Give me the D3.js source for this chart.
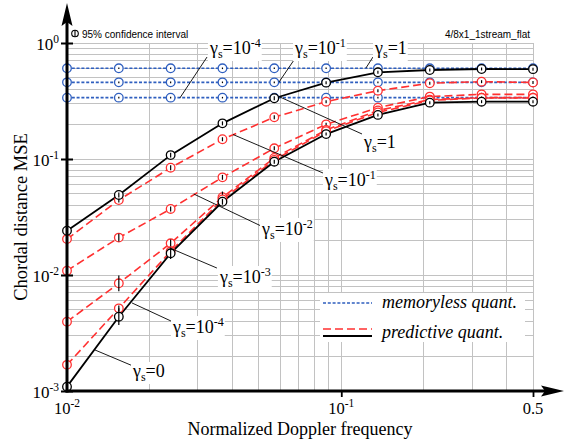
<!DOCTYPE html>
<html><head><meta charset="utf-8">
<script src="https://cdn.jsdelivr.net/npm/d3@7"></script>
<style>
  body { margin: 0; background: #fff; }
  svg { display: block; }
</style>
</head><body>
<svg id="chart" width="566" height="441"></svg>
<script>
// Normalized Doppler frequencies of the simulated points
const doppler = [0.01, 0.01545, 0.02387, 0.03688, 0.05698, 0.08804, 0.1360, 0.2102, 0.3247, 0.5];

// Memoryless quantization (flat over Doppler)
const memGamma1   = [0.605, 0.605, 0.605, 0.605, 0.605, 0.605, 0.605, 0.605, 0.605, 0.605];
const memGamma1e1 = [0.458, 0.458, 0.458, 0.458, 0.458, 0.458, 0.458, 0.458, 0.458, 0.458];
const memGamma1e4 = [0.338, 0.338, 0.338, 0.338, 0.338, 0.338, 0.338, 0.338, 0.338, 0.338];

// Predictive quantization
const predGamma1   = [0.0241, 0.049, 0.108, 0.203, 0.334, 0.455, 0.559, 0.585, 0.597, 0.595];
const predGamma1e1 = [0.0204, 0.0443, 0.0841, 0.148, 0.229, 0.312, 0.388, 0.450, 0.464, 0.457];
const predGamma1e2 = [0.0109, 0.0210, 0.0371, 0.0695, 0.1237, 0.199, 0.277, 0.345, 0.361, 0.361];
const predGamma1e3 = [0.00396, 0.00848, 0.01876, 0.0468, 0.102, 0.178, 0.262, 0.325, 0.338, 0.338];
const predGamma1e4 = [0.00168, 0.00516, 0.0160, 0.0449, 0.098, 0.174, 0.252, 0.320, 0.336, 0.336];
const predGamma0   = [0.00109, 0.00437, 0.01538, 0.0428, 0.0948, 0.164, 0.240, 0.306, 0.312, 0.312];

// 95% confidence half-widths, relative to the value
const ciMem    = [0.008, 0.008, 0.008, 0.008, 0.008, 0.008, 0.008, 0.008, 0.008, 0.008];
const ciG1     = [0.05, 0.05, 0.05, 0.04, 0.04, 0.03, 0.03, 0.03, 0.03, 0.03];
const ciG1e1   = [0.05, 0.05, 0.05, 0.04, 0.04, 0.03, 0.03, 0.03, 0.03, 0.03];
const ciG1e2   = [0.06, 0.08, 0.05, 0.05, 0.04, 0.03, 0.03, 0.03, 0.03, 0.03];
const ciG1e3   = [0.06, 0.17, 0.08, 0.12, 0.05, 0.04, 0.03, 0.03, 0.03, 0.03];
const ciG1e4   = [0.06, 0.06, 0.05, 0.05, 0.04, 0.03, 0.03, 0.03, 0.03, 0.03];
const ciG0     = [0.06, 0.18, 0.12, 0.06, 0.04, 0.03, 0.03, 0.03, 0.03, 0.03];

// Axis tick labels
const xTickValues = [0.01, 0.1, 0.5];
const xTickBase   = ["10", "10", "0.5"];
const xTickExp    = ["-2", "-1", ""];
const yTickValues = [1e-3, 1e-2, 1e-1, 1];
const yTickExp    = ["-3", "-2", "-1", "0"];

// Curve annotations: anchor point, leader end, label position (data space)
const annotations = [
  { base: "10", exp: "-4", ax: 0.0258, ay: 0.336,  ex: 0.0324, ey: 0.757,  lx: 0.0332, ly: 0.804 },
  { base: "10", exp: "-1", ax: 0.0593, ay: 0.461,  ex: 0.0684, ey: 0.757,  lx: 0.0678, ly: 0.804 },
  { base: "1",  exp: "",   ax: 0.123,  ay: 0.609,  ex: 0.1305, ey: 0.757,  lx: 0.1327, ly: 0.804 },
  { base: "1",  exp: "",   ax: 0.0598, ay: 0.342,  ex: 0.119,  ey: 0.1643, lx: 0.121,  ly: 0.1244 },
  { base: "10", exp: "-1", ax: 0.0403, ay: 0.1626, ex: 0.0858, ey: 0.0757, lx: 0.0872, ly: 0.0585 },
  { base: "10", exp: "-2", ax: 0.0290, ay: 0.0499, ex: 0.0510, ey: 0.02645, lx: 0.0514, ly: 0.02213 },
  { base: "10", exp: "-3", ax: 0.0237, ay: 0.0171, ex: 0.0352, ey: 0.01148, lx: 0.0361, ly: 0.00853 },
  { base: "10", exp: "-4", ax: 0.01726, ay: 0.00574, ex: 0.02434, ey: 0.00394, lx: 0.02434, ly: 0.00316 },
  { base: "0",  exp: "",   ax: 0.01265, ay: 0.002257, ex: 0.0174, ey: 0.001643, lx: 0.0174, ly: 0.00132 }
];

const BLUE = "#2f5fbf", RED = "#ff3030", BLACK = "#000";
const serif = "'Liberation Serif', 'Times New Roman', serif";
const sans = "'Liberation Sans', Arial, sans-serif";

const series = [
  { values: memGamma1,    ci: ciMem,  color: BLUE,  dash: "3,1.8", width: 1.6 },
  { values: memGamma1e1,  ci: ciMem,  color: BLUE,  dash: "3,1.8", width: 1.6 },
  { values: memGamma1e4,  ci: ciMem,  color: BLUE,  dash: "3,1.8", width: 1.6 },
  { values: predGamma1e1, ci: ciG1e1, color: RED,   dash: "8,4",   width: 1.6 },
  { values: predGamma1e2, ci: ciG1e2, color: RED,   dash: "8,4",   width: 1.6 },
  { values: predGamma1e3, ci: ciG1e3, color: RED,   dash: "8,4",   width: 1.6 },
  { values: predGamma1e4, ci: ciG1e4, color: RED,   dash: "8,4",   width: 1.6 },
  { values: predGamma1,   ci: ciG1,   color: BLACK, dash: null,    width: 1.8 },
  { values: predGamma0,   ci: ciG0,   color: BLACK, dash: null,    width: 1.8 }
];

const svg = d3.select("#chart");
const x = d3.scaleLog().domain([0.01, 0.5]).range([67, 533]);
const y = d3.scaleLog().domain([1e-3, 1]).range([391, 43]);

// Grid
const grid = svg.append("g").attr("stroke", "#c2c2c2").attr("stroke-width", 1).attr("shape-rendering", "crispEdges");
grid.selectAll("line.v").data(x.ticks()).join("line").attr("class", "v")
  .attr("x1", d => x(d)).attr("x2", d => x(d)).attr("y1", y(1)).attr("y2", y(1e-3));
grid.selectAll("line.h").data(y.ticks()).join("line").attr("class", "h")
  .attr("x1", x(0.01)).attr("x2", x(0.5)).attr("y1", d => y(d)).attr("y2", d => y(d));

// Curves
const line = d3.line().x((d, i) => x(doppler[i])).y(d => y(d));
const curves = svg.append("g");
series.forEach(s => {
  curves.append("path").attr("d", line(s.values)).attr("fill", "none")
    .attr("stroke", s.color).attr("stroke-width", s.width)
    .attr("stroke-dasharray", s.dash);
});
series.forEach(s => {
  const g = curves.append("g");
  s.values.forEach((v, i) => {
    const cx = x(doppler[i]), cy = y(v);
    g.append("circle").attr("cx", cx).attr("cy", cy).attr("r", 4.3)
      .attr("fill", "#fff").attr("stroke", s.color).attr("stroke-width", 1.3);
    let y0 = y(v * (1 + s.ci[i])), y1 = y(v / (1 + s.ci[i]));
    if (y1 - y0 < 1.6) { const m = (y0 + y1) / 2; y0 = m - 0.8; y1 = m + 0.8; }
    g.append("line").attr("x1", cx).attr("x2", cx).attr("y1", y0).attr("y2", y1)
      .attr("stroke", "#000").attr("stroke-width", 1.2);
  });
});

// Axes
const yAxis = svg.append("g").attr("transform", `translate(${x(0.01)},0)`)
  .call(d3.axisLeft(y).tickValues(yTickValues).tickFormat(() => "").tickSize(6));
yAxis.select(".domain").remove();
yAxis.selectAll(".tick line").attr("x1", 6).attr("x2", -6).attr("stroke-width", 2);

const xAxis = svg.append("g").attr("transform", `translate(0,${y(1e-3)})`)
  .call(d3.axisBottom(x).tickValues(xTickValues.slice(1)).tickFormat(() => "").tickSize(6));
xAxis.select(".domain").remove();
xAxis.selectAll(".tick line").attr("stroke-width", 1.8);

// Axis lines with arrow heads
svg.append("line").attr("x1", x(0.01)).attr("x2", x(0.01)).attr("y1", y(1e-3) + 1.5).attr("y2", 20)
  .attr("stroke", "#000").attr("stroke-width", 3);
svg.append("path").attr("d", `M${x(0.01)},3 L${x(0.01) + 5.5},26 L${x(0.01)},22 L${x(0.01) - 5.5},26 Z`).attr("fill", "#000");
svg.append("line").attr("x1", x(0.01) - 1.5).attr("x2", 550).attr("y1", y(1e-3)).attr("y2", y(1e-3))
  .attr("stroke", "#000").attr("stroke-width", 3);
svg.append("path").attr("d", `M564,${y(1e-3)} L541,${y(1e-3) - 5.5} L545,${y(1e-3)} L541,${y(1e-3) + 5.5} Z`).attr("fill", "#000");

// Tick labels
yTickValues.forEach((v, i) => {
  const t = svg.append("text").attr("x", 59).attr("y", y(v) + 6.5).attr("text-anchor", "end")
    .attr("font-family", serif).attr("font-size", 17);
  t.append("tspan").text("10");
  t.append("tspan").attr("font-size", 11.5).attr("dy", -7).text(yTickExp[i]);
});
xTickValues.forEach((v, i) => {
  const t = svg.append("text").attr("x", x(v)).attr("y", 413.5).attr("text-anchor", "middle")
    .attr("font-family", serif).attr("font-size", 16.5);
  t.append("tspan").text(xTickBase[i]);
  if (xTickExp[i]) t.append("tspan").attr("font-size", 11.5).attr("dy", -7).text(xTickExp[i]);
});

// Axis titles
svg.append("text").attr("x", (x(0.01) + x(0.5)) / 2).attr("y", 435).attr("text-anchor", "middle")
  .attr("font-family", serif).attr("font-size", 18).text("Normalized Doppler frequency");
svg.append("text").attr("transform", `translate(27,${(y(1) + y(1e-3)) / 2}) rotate(-90)`)
  .attr("text-anchor", "middle").attr("font-family", serif).attr("font-size", 18.5)
  .text("Chordal distance MSE");

// Header notes
svg.append("circle").attr("cx", 75).attr("cy", 33.5).attr("r", 3.3).attr("fill", "none")
  .attr("stroke", "#000").attr("stroke-width", 1.1);
svg.append("line").attr("x1", 75).attr("x2", 75).attr("y1", 30).attr("y2", 37)
  .attr("stroke", "#000").attr("stroke-width", 1.1);
svg.append("text").attr("x", 82).attr("y", 37.5).attr("font-family", sans).attr("font-size", 10)
  .text("95% confidence interval");
svg.append("text").attr("x", 530).attr("y", 37.5).attr("text-anchor", "end")
  .attr("font-family", sans).attr("font-size", 10).text("4/8x1_1stream_flat");

// Curve labels with leaders
const ann = svg.append("g");
annotations.forEach(a => {
  ann.append("line").attr("x1", x(a.ax)).attr("y1", y(a.ay)).attr("x2", x(a.ex)).attr("y2", y(a.ey))
    .attr("stroke", "#000").attr("stroke-width", 0.9);
  const bg = ann.append("rect").attr("fill", "#fff");
  const t = ann.append("text").attr("x", x(a.lx)).attr("y", y(a.ly))
    .attr("font-family", serif).attr("font-size", 18);
  t.append("tspan").text("γ");
  t.append("tspan").attr("font-size", 12).attr("dy", 4).text("s");
  t.append("tspan").attr("dy", -4).text("=" + a.base);
  if (a.exp) t.append("tspan").attr("font-size", 12).attr("dy", -7).text(a.exp);
  const b = t.node().getBBox();
  bg.attr("x", b.x - 1).attr("y", b.y + 1).attr("width", b.width + 2).attr("height", b.height - 1);
});

// Legend
const legend = svg.append("g");
legend.append("rect").attr("x", 320).attr("y", 293).attr("width", 205).attr("height", 49).attr("fill", "#fff");
legend.append("line").attr("x1", 323).attr("x2", 372).attr("y1", 303).attr("y2", 303)
  .attr("stroke", BLUE).attr("stroke-width", 1.6).attr("stroke-dasharray", "3,1.8");
legend.append("text").attr("x", 382).attr("y", 308).attr("font-family", serif).attr("font-style", "italic")
  .attr("font-size", 18).text("memoryless quant.");
legend.append("line").attr("x1", 323).attr("x2", 372).attr("y1", 329).attr("y2", 329)
  .attr("stroke", RED).attr("stroke-width", 1.6).attr("stroke-dasharray", "8,4");
legend.append("line").attr("x1", 323).attr("x2", 372).attr("y1", 336).attr("y2", 336)
  .attr("stroke", BLACK).attr("stroke-width", 1.8);
legend.append("text").attr("x", 382).attr("y", 338).attr("font-family", serif).attr("font-style", "italic")
  .attr("font-size", 18).text("predictive quant.");
</script>
</body></html>
